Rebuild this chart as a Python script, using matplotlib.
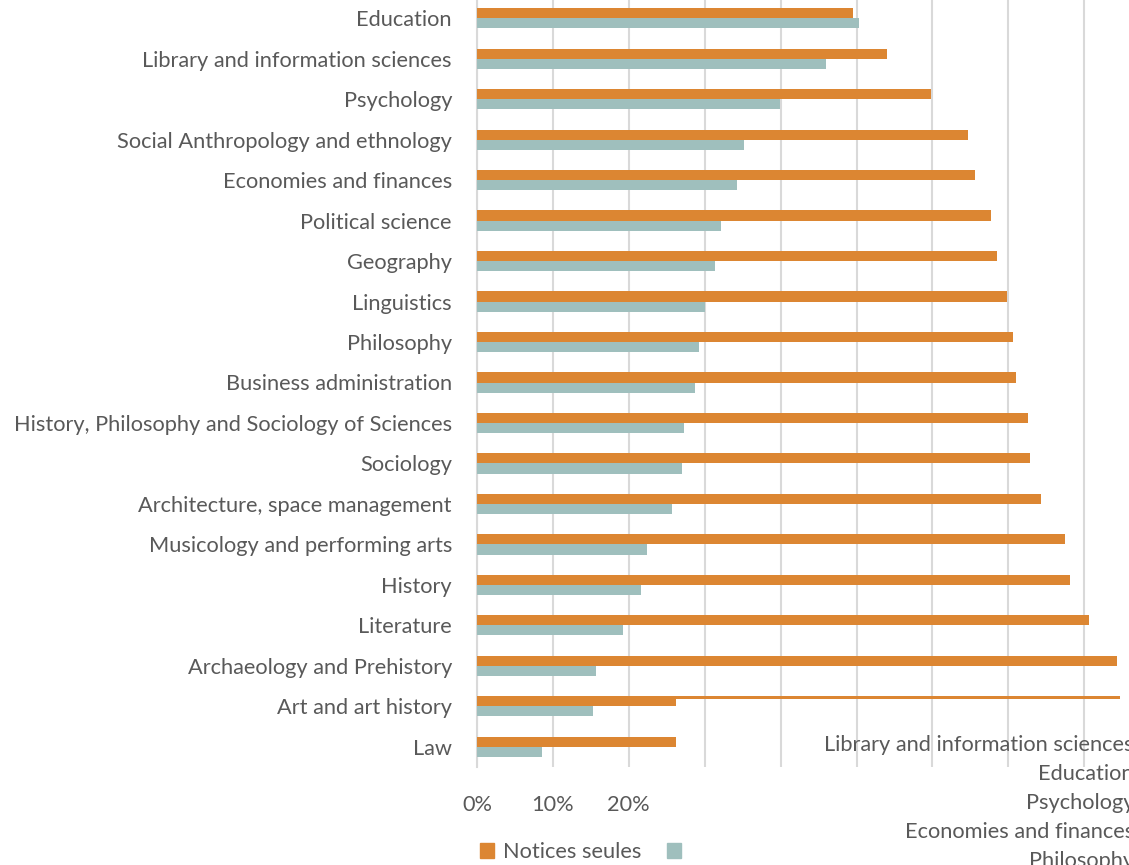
import matplotlib.pyplot as plt
from matplotlib.patches import Patch

categories = ['Education', 'Library and information sciences', 'Psychology',
              'Social Anthropology and ethnology', 'Economies and finances',
              'Political science', 'Geography', 'Linguistics', 'Philosophy',
              'Business administration', 'History, Philosophy and Sociology of Sciences',
              'Sociology', 'Architecture, space management',
              'Musicology and performing arts', 'History', 'Literature',
              'Archaeology and Prehistory', 'Art and art history', 'Law']
notices_seules = [49.5, 54.0, 59.8, 64.7, 65.6, 67.7, 68.5, 69.8, 70.6, 71.0,
                  72.6, 72.9, 74.3, 77.5, 78.1, 80.6, 84.3, 84.7, 26.2]
second_series = [50.3, 46.0, 39.9, 35.2, 34.3, 32.1, 31.4, 30.0, 29.2, 28.7,
                 27.3, 27.0, 25.7, 22.4, 21.6, 19.2, 15.7, 15.3, 8.6]
# the "Art and art history" row of the original is partly overdrawn by a copy of the Law bar
glitch_row = 'Art and art history'
glitch_value = 26.2
xticks = [0, 10, 20, 30, 40, 50, 60, 70, 80, 90, 100]
xtick_labels = ['0%', '10%', '20%', '', '', '', '', '', '', '', '']
stray_labels = ['Library and information sciences', 'Education', 'Psychology',
                'Economies and finances', 'Philosophy']

ORANGE = '#dc8632'
TEAL = '#9fbfbd'
GREY = '#595959'
FONT = 'Lato'
FS = 15.7

fig = plt.figure(figsize=(11.29, 8.65), dpi=100)
ax = fig.add_axes([477 / 1129, 98 / 865, 759 / 1129, 769 / 865])

ypos = list(range(len(categories)))
h = 0.25
for i, cat in enumerate(categories):
    if cat == glitch_row:
        ax.barh(i - h / 2 - 0.09, notices_seules[i], height=0.07, color=ORANGE, zorder=3)
        ax.barh(i - h / 2 + 0.03, glitch_value, height=h - 0.06, color=ORANGE, zorder=3)
    else:
        ax.barh(i - h / 2, notices_seules[i], height=h, color=ORANGE, zorder=3)
    ax.barh(i + h / 2, second_series[i], height=h, color=TEAL, zorder=3)

ax.set_ylim(len(categories) - 0.5, -0.5)
ax.set_xlim(0, 100)
ax.set_yticks(ypos)
ax.set_yticklabels(categories, fontsize=FS, color=GREY, family=FONT)
ax.set_xticks(xticks)
ax.set_xticklabels(xtick_labels, fontsize=FS, color=GREY, family=FONT)
ax.tick_params(axis='both', length=0)
ax.tick_params(axis='y', pad=18)
ax.tick_params(axis='x', pad=20)
ax.grid(axis='x', color='#d9d9d9', linewidth=1.5, zorder=0)
for side in ['top', 'right', 'bottom']:
    ax.spines[side].set_visible(False)
ax.spines['left'].set_color('#d9d9d9')
ax.spines['left'].set_linewidth(1.5)

handles = [Patch(color=ORANGE), Patch(color=TEAL)]
fig.legend(handles, ['Notices seules', ''], loc='center left',
           bbox_to_anchor=(460 / 1129, 13 / 865), ncol=2, frameon=False,
           prop={'family': FONT, 'size': FS}, labelcolor=GREY,
           handlelength=0.65, handleheight=0.65, handletextpad=0.4, columnspacing=1.2)

for k, lab in enumerate(stray_labels):
    fig.text(1134 / 1129, 1 - (745 + 29 * k) / 865, lab, ha='right', va='center',
             fontsize=FS, color=GREY, family=FONT)

fig.savefig('out.png', dpi=100)
